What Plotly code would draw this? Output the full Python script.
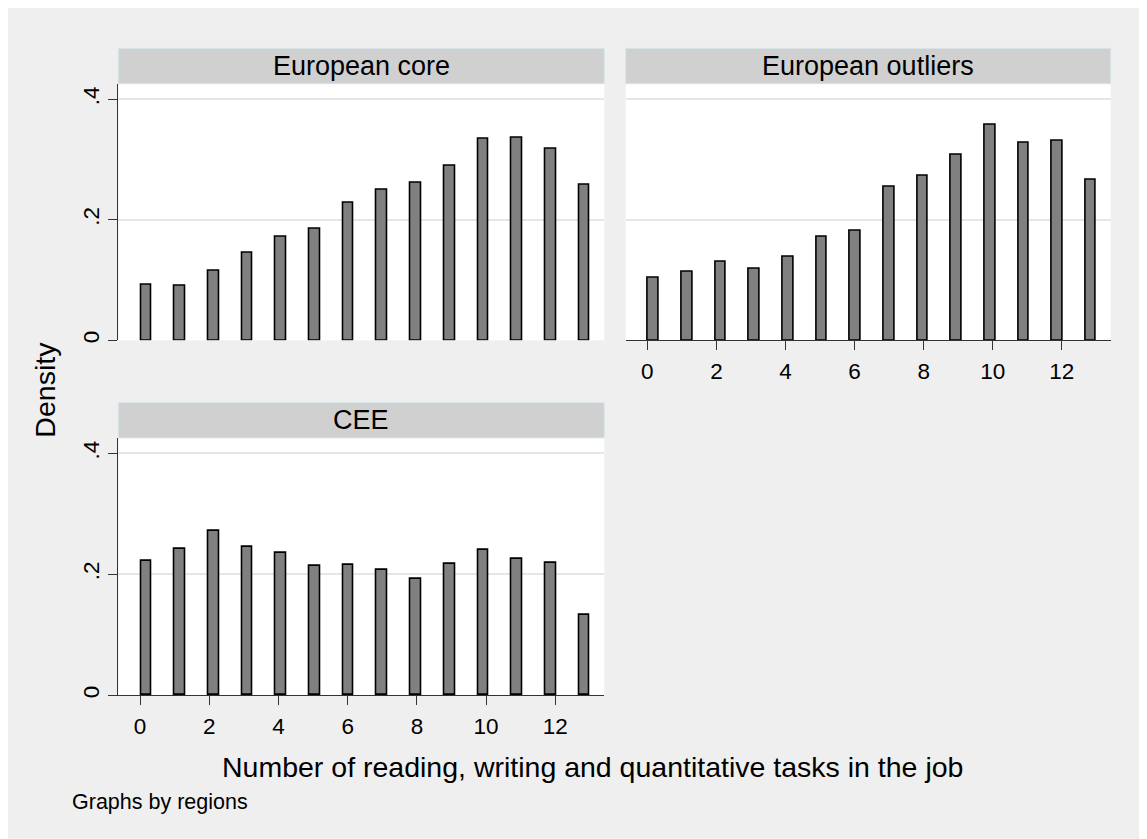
import plotly.graph_objects as go

# ---------------- data ----------------
tasks = list(range(14))  # number of tasks (0..13)

regions = ["European core", "European outliers", "CEE"]

density_core = [0.092, 0.090, 0.115, 0.145, 0.172, 0.185, 0.228, 0.250,
                0.262, 0.290, 0.334, 0.336, 0.317, 0.258]
density_outliers = [0.103, 0.113, 0.131, 0.119, 0.139, 0.171, 0.181, 0.255,
                    0.273, 0.308, 0.358, 0.328, 0.331, 0.266]
density_cee = [0.222, 0.242, 0.272, 0.245, 0.235, 0.213, 0.215, 0.207,
               0.192, 0.217, 0.240, 0.226, 0.219, 0.133]

y_tickvals = [0, 0.2, 0.4]
y_ticktext = ["0", ".2", ".4"]
x_tickvals = [0, 2, 4, 6, 8, 10, 12]
x_ticktext = ["0", "2", "4", "6", "8", "10", "12"]

# ---------------- style ----------------
W, H = 1147, 839
PAGE_OFF = 8  # page body margin in the browser
BG = "#EFEFEF"
STRIP = "#D0D0D0"
STRIP_LINE = "#D8E6EA"
BAR_FILL = "#808080"
GRID = "#E6E6E6"
AXIS = "#333333"
FONT = "Liberation Sans, Arial, sans-serif"

BIN_STEP = 0.974   # histogram bin spacing
BIN_OFFSET = 0.178  # centre of first bar
BAR_W = 0.31

XR = [-0.627, 13.415]
YR = [0, 0.4255]


def px(x):
    return (x - PAGE_OFF) / W


def py(y):
    return 1 - (y - PAGE_OFF) / H


panels = [
    # name, data, x domain px, y domain px (top, bottom), show x labels, show y labels
    ("European core", density_core, (118.3, 604.3), (84, 341.5), False, True),
    ("European outliers", density_outliers, (625.7, 1110.7), (84, 341.5), True, False),
    ("CEE", density_cee, (118.3, 604.3), (439.5, 697.7), True, True),
]
strip_h = 35.5

fig = go.Figure()
shapes = []
annotations = []
layout_axes = {}

for i, (name, dens, (x0, x1), (ytop, ybot), showx, showy) in enumerate(panels):
    n = "" if i == 0 else str(i + 1)
    xpos = [BIN_OFFSET + t * BIN_STEP for t in tasks]
    fig.add_trace(go.Bar(
        x=xpos, y=dens, width=BAR_W,
        marker=dict(color=BAR_FILL, line=dict(color="black", width=1.6)),
        xaxis="x" + n, yaxis="y" + n, showlegend=False,
        hovertemplate="%{y:.3f}<extra>" + name + "</extra>",
    ))
    layout_axes["xaxis" + n] = dict(
        domain=[px(x0), px(x1)], range=XR, anchor="y" + n,
        tickvals=x_tickvals, ticktext=x_ticktext,
        showticklabels=showx, ticks="outside" if showx else "",
        ticklen=9, tickwidth=1, tickcolor=AXIS, ticklabelstandoff=2,
        showline=showx, linecolor=AXIS, linewidth=1,
        showgrid=False, zeroline=False,
        tickfont=dict(family=FONT, size=22.5, color="black"),
    )
    layout_axes["yaxis" + n] = dict(
        domain=[py(ybot), py(ytop)], range=YR, anchor="x" + n,
        tickvals=y_tickvals, ticktext=y_ticktext,
        showticklabels=showy, ticks="outside" if showy else "",
        ticklen=9, tickwidth=1, tickcolor=AXIS, tickangle=-90,
        showline=showy, linecolor=AXIS, linewidth=1,
        showgrid=True, gridcolor=GRID, gridwidth=1.5, zeroline=False,
        tickfont=dict(family=FONT, size=22.5, color="black"),
    )
    # strip
    shapes.append(dict(type="rect", xref="paper", yref="paper",
                       x0=px(x0), x1=px(x1), y0=py(ytop), y1=py(ytop - strip_h),
                       fillcolor=STRIP, line=dict(color=STRIP_LINE, width=1),
                       layer="below"))
    annotations.append(dict(text=name, xref="paper", yref="paper",
                            x=(px(x0) + px(x1)) / 2, y=py(ytop - strip_h / 2),
                            xanchor="center", yanchor="middle", showarrow=False,
                            font=dict(family=FONT, size=27, color="black")))

annotations.append(dict(text="Density", xref="paper", yref="paper",
                        x=px(45), y=py(391), textangle=-90,
                        xanchor="center", yanchor="middle", showarrow=False,
                        font=dict(family=FONT, size=28.5, color="black")))
annotations.append(dict(text="Number of reading, writing and quantitative tasks in the job",
                        xref="paper", yref="paper", x=px(592), y=py(770),
                        xanchor="center", yanchor="middle", showarrow=False,
                        font=dict(family=FONT, size=28.5, color="black")))
annotations.append(dict(text="Graphs by regions", xref="paper", yref="paper",
                        x=px(70), y=py(805), xanchor="left", yanchor="middle",
                        showarrow=False,
                        font=dict(family=FONT, size=21.5, color="black")))

fig.update_layout(
    width=W, height=H,
    margin=dict(l=0, r=0, t=0, b=0),
    paper_bgcolor=BG, plot_bgcolor="white",
    shapes=shapes, annotations=annotations,
    bargap=0, showlegend=False,
    **layout_axes,
)

fig.write_html("out.html")
